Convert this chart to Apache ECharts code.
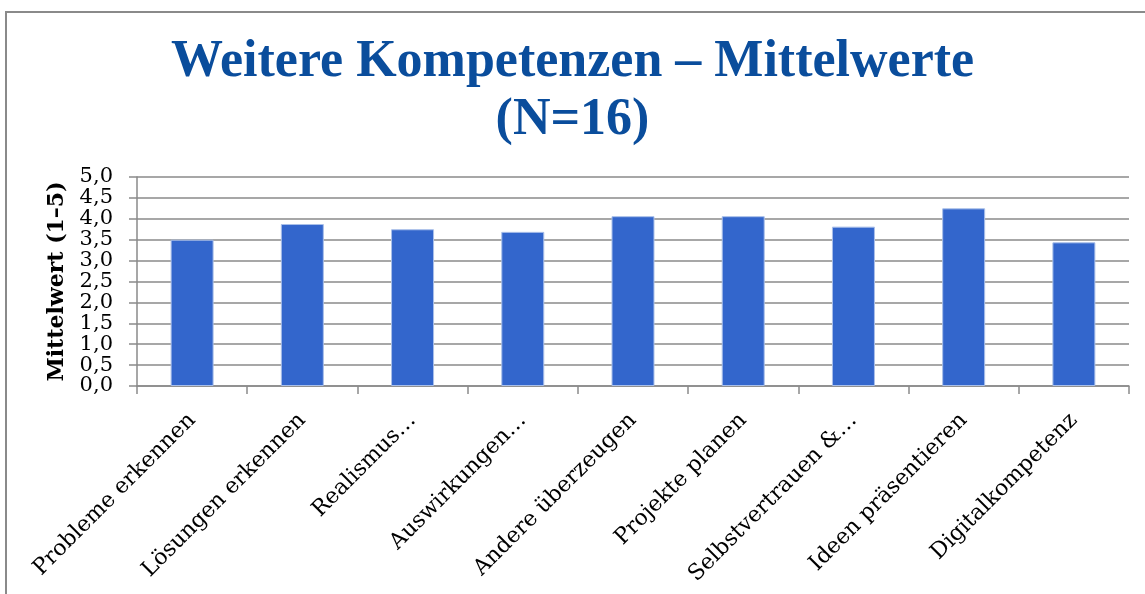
<!DOCTYPE html>
<html>
<head>
<meta charset="utf-8">
<script src="https://cdn.jsdelivr.net/npm/echarts@6/dist/echarts.min.js"></script>
<style>
	html, body { margin: 0; padding: 0; background: #fff; }
	#chart { width: 1145px; height: 594px; }
</style>
</head>
<body>
<div id="chart"></div>
<script>
// Kategorien und Mittelwerte (Skala 1-5, N=16)
var categories = ['Probleme erkennen', 'Lösungen erkennen', 'Realismus…', 'Auswirkungen…',
	'Andere überzeugen', 'Projekte planen', 'Selbstvertrauen &…', 'Ideen präsentieren', 'Digitalkompetenz'];
var means = [3.5, 3.875, 3.75, 3.6875, 4.0625, 4.0625, 3.8125, 4.25, 3.4375];
var yTicks = [0, 5, 0.5]; // min, max, interval

(function()
{
	var mychart = echarts.init(document.getElementById('chart'));
	var grey = '#8a8a8a';

	var option = {
		backgroundColor: '#fff',
		animation: false,
		title: {
			text: 'Weitere Kompetenzen – Mittelwerte\n(N=16)',
			left: 'center',
			top: 34,
			padding: [0, 0, 0, 26],
			textStyle: {
				fontFamily: 'Liberation Serif',
				fontWeight: 'bold',
				fontSize: 52,
				lineHeight: 58,
				color: '#0a4d9c'
			}
		},
		graphic: [{
			type: 'rect',
			shape: { x: 6, y: 12, width: 1300, height: 800 },
			style: { fill: 'none', stroke: grey, lineWidth: 2 },
			silent: true
		}],
		grid: { left: 137, right: 16, top: 177, bottom: 208 },
		xAxis: {
			type: 'category',
			data: categories,
			axisLine: { lineStyle: { color: grey, width: 1.5 } },
			axisTick: { show: true, length: 8, lineStyle: { color: grey, width: 1.5 } },
			axisLabel: {
				interval: 0,
				rotate: 45,
				margin: 31,
				fontFamily: 'DejaVu Serif',
				fontSize: 22,
				color: '#000'
			}
		},
		yAxis: {
			type: 'value',
			min: yTicks[0],
			max: yTicks[1],
			interval: yTicks[2],
			name: 'Mittelwert (1–5)',
			nameLocation: 'middle',
			nameGap: 67,
			nameTextStyle: {
				fontFamily: 'DejaVu Serif',
				fontWeight: 'bold',
				fontSize: 22,
				color: '#000'
			},
			axisLine: { show: true, lineStyle: { color: grey, width: 1.5 } },
			axisTick: { show: true, length: 8, lineStyle: { color: grey, width: 1.5 } },
			splitLine: { lineStyle: { color: grey, width: 1.5 } },
			axisLabel: {
				interval: 0,
				showMinLabel: true,
				showMaxLabel: true,
				hideOverlap: false,
				margin: 24,
				fontFamily: 'DejaVu Serif',
				fontSize: 21,
				lineHeight: 16,
				color: '#000',
				formatter: function(v) { return v.toFixed(1).replace('.', ','); }
			}
		},
		series: [{
			type: 'bar',
			data: means,
			barWidth: '39%',
			itemStyle: {
				color: '#3366cc',
				borderColor: '#a9bfe9',
				borderWidth: 1
			}
		}]
	};
	mychart.setOption(option);
})();
</script>
</body>
</html>
